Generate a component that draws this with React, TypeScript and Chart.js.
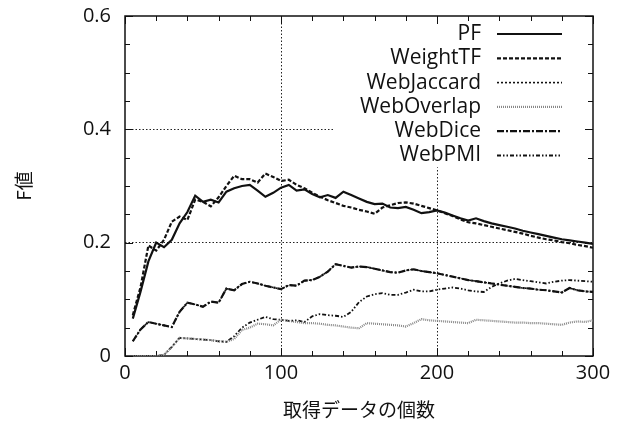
import React, { useEffect, useRef } from "react";
import { Chart, registerables } from "chart.js";

Chart.register(...registerables);

const xValues = [5, 10, 15, 20, 25, 30, 35, 40, 45, 50, 55, 60, 65, 70, 75, 80, 85, 90, 95, 100,
  105, 110, 115, 120, 125, 130, 135, 140, 145, 150, 155, 160, 165, 170, 175, 180, 185, 190, 195, 200,
  205, 210, 215, 220, 225, 230, 235, 240, 245, 250, 255, 260, 265, 270, 275, 280, 285, 290, 295, 300];

const pf = [0.066, 0.114, 0.167, 0.200, 0.192, 0.205, 0.234, 0.254, 0.283, 0.272, 0.276, 0.271, 0.290, 0.296, 0.300, 0.302, 0.292, 0.281, 0.288, 0.297,
  0.302, 0.292, 0.294, 0.286, 0.280, 0.284, 0.279, 0.290, 0.284, 0.278, 0.272, 0.268, 0.269, 0.262, 0.261, 0.263, 0.258, 0.252, 0.254, 0.257,
  0.253, 0.248, 0.243, 0.239, 0.243, 0.238, 0.234, 0.231, 0.228, 0.225, 0.221, 0.218, 0.215, 0.212, 0.209, 0.206, 0.204, 0.202, 0.200, 0.198];

const weightTF = [0.072, 0.122, 0.195, 0.186, 0.205, 0.237, 0.246, 0.240, 0.276, 0.272, 0.264, 0.280, 0.300, 0.318, 0.312, 0.312, 0.306, 0.322, 0.316, 0.309,
  0.311, 0.302, 0.296, 0.288, 0.281, 0.275, 0.270, 0.265, 0.262, 0.258, 0.255, 0.251, 0.262, 0.266, 0.270, 0.271, 0.269, 0.265, 0.261, 0.257,
  0.252, 0.247, 0.241, 0.236, 0.234, 0.231, 0.228, 0.225, 0.222, 0.219, 0.216, 0.212, 0.209, 0.206, 0.204, 0.201, 0.199, 0.196, 0.194, 0.191];

const webJaccard = [0.026, 0.047, 0.060, 0.057, 0.054, 0.051, 0.078, 0.094, 0.091, 0.087, 0.096, 0.094, 0.119, 0.116, 0.127, 0.131, 0.128, 0.124, 0.121, 0.118,
  0.125, 0.124, 0.133, 0.134, 0.140, 0.149, 0.162, 0.159, 0.156, 0.158, 0.157, 0.154, 0.151, 0.148, 0.147, 0.151, 0.153, 0.150, 0.148, 0.146,
  0.143, 0.140, 0.137, 0.134, 0.132, 0.130, 0.128, 0.126, 0.124, 0.122, 0.120, 0.119, 0.117, 0.116, 0.114, 0.112, 0.120, 0.116, 0.114, 0.113];

const webOverlap = [0, 0, 0, 0, 0.002, 0.016, 0.032, 0.031, 0.030, 0.029, 0.028, 0.026, 0.025, 0.030, 0.046, 0.050, 0.057, 0.056, 0.054, 0.064,
  0.062, 0.060, 0.058, 0.058, 0.057, 0.055, 0.054, 0.052, 0.050, 0.049, 0.058, 0.057, 0.056, 0.055, 0.054, 0.052, 0.058, 0.065, 0.063, 0.062,
  0.061, 0.060, 0.059, 0.058, 0.064, 0.063, 0.062, 0.061, 0.060, 0.059, 0.059, 0.058, 0.058, 0.057, 0.056, 0.055, 0.059, 0.061, 0.060, 0.063];

const webDice = [0.026, 0.047, 0.060, 0.057, 0.054, 0.051, 0.078, 0.094, 0.091, 0.087, 0.096, 0.094, 0.119, 0.116, 0.127, 0.131, 0.128, 0.124, 0.121, 0.118,
  0.125, 0.124, 0.133, 0.134, 0.140, 0.149, 0.162, 0.159, 0.156, 0.158, 0.157, 0.154, 0.151, 0.148, 0.147, 0.151, 0.153, 0.150, 0.148, 0.146,
  0.143, 0.140, 0.137, 0.134, 0.132, 0.130, 0.128, 0.126, 0.124, 0.122, 0.120, 0.119, 0.117, 0.116, 0.114, 0.112, 0.120, 0.116, 0.114, 0.113];

const webPMI = [0, 0, 0, 0, 0.002, 0.016, 0.032, 0.031, 0.030, 0.029, 0.028, 0.026, 0.025, 0.035, 0.050, 0.059, 0.064, 0.069, 0.065, 0.064,
  0.062, 0.063, 0.060, 0.070, 0.074, 0.072, 0.071, 0.069, 0.078, 0.095, 0.105, 0.109, 0.111, 0.108, 0.108, 0.112, 0.117, 0.114, 0.114, 0.117,
  0.119, 0.121, 0.119, 0.116, 0.114, 0.113, 0.122, 0.128, 0.133, 0.136, 0.134, 0.132, 0.130, 0.128, 0.131, 0.133, 0.134, 0.133, 0.132, 0.131];

const seriesNames = ["PF", "WeightTF", "WebJaccard", "WebOverlap", "WebDice", "WebPMI"];
const xTickLabels = [0, 100, 200, 300];
const yTickLabels = [0, 0.2, 0.4, 0.6];
const xTitle = "取得データの個数";
const yTitle = "F値";

const FONT = "'Open Sans', 'Noto Sans', sans-serif";

const styles = [
  { color: "#111", width: 2.2, dash: [] as number[] },
  { color: "#111", width: 2.2, dash: [4, 2] },
  { color: "#111", width: 1.6, dash: [2, 2] },
  { color: "#888", width: 2.2, dash: [1, 1] },
  { color: "#111", width: 2.2, dash: [7, 2, 2, 2] },
  { color: "#111", width: 1.8, dash: [4, 2, 1.5, 2, 1.5, 2] },
];

const near = (v: number, arr: number[]) => arr.some((a) => Math.abs(a - v) < 1e-6);

export default function App() {
  const ref = useRef<HTMLCanvasElement | null>(null);
  useEffect(() => {
    if (!ref.current) return;
    const allSeries = [pf, weightTF, webJaccard, webOverlap, webDice, webPMI];
    const datasets = allSeries.map((s, i) => ({
      label: seriesNames[i],
      data: s.map((v, k) => ({ x: xValues[k], y: v })),
      borderColor: styles[i].color,
      borderWidth: styles[i].width,
      borderDash: styles[i].dash,
      pointRadius: 0,
      tension: 0,
      fill: false,
    }));

    const framePlugin = {
      id: "frame",
      beforeDatasetsDraw(chart: any) {
        const { ctx, chartArea: a, scales } = chart;
        const xs = scales.x;
        const ys = scales.y;
        ctx.save();
        // legend white box
        const boxLeft = xs.getPixelForValue(134);
        const boxBottom = ys.getPixelForValue(0.333);
        ctx.fillStyle = "#fff";
        ctx.fillRect(boxLeft, a.top, a.right - boxLeft, boxBottom - a.top);
        // legend entries
        ctx.font = "21px " + FONT;
        ctx.textAlign = "right";
        ctx.textBaseline = "middle";
        const rowY0 = a.top + 18;
        const rowH = 24.3;
        seriesNames.forEach((n, i) => {
          const y = rowY0 + i * rowH;
          ctx.fillStyle = "#111";
          ctx.fillText(n, 481, y);
          ctx.beginPath();
          ctx.strokeStyle = styles[i].color;
          ctx.lineWidth = styles[i].width;
          ctx.setLineDash(styles[i].dash);
          ctx.moveTo(497, y);
          ctx.lineTo(562, y);
          ctx.stroke();
        });
        ctx.setLineDash([]);
        // inward ticks
        ctx.strokeStyle = "#111";
        ctx.lineWidth = 1;
        ctx.beginPath();
        xs.ticks.forEach((t: any) => {
          const px = Math.round(xs.getPixelForValue(t.value)) + 0.5;
          const len = near(t.value, xTickLabels) ? 8 : 5;
          ctx.moveTo(px, a.bottom);
          ctx.lineTo(px, a.bottom - len);
          ctx.moveTo(px, a.top);
          ctx.lineTo(px, a.top + len);
        });
        ys.ticks.forEach((t: any) => {
          const py = Math.round(ys.getPixelForValue(t.value)) + 0.5;
          const len = near(t.value, yTickLabels) ? 8 : 5;
          ctx.moveTo(a.left, py);
          ctx.lineTo(a.left + len, py);
          ctx.moveTo(a.right, py);
          ctx.lineTo(a.right - len, py);
        });
        ctx.stroke();
        // frame
        ctx.lineWidth = 1.5;
        ctx.strokeRect(a.left, a.top, a.right - a.left, a.bottom - a.top);
        ctx.restore();
      },
    };

    const chart = new Chart(ref.current, {
      type: "line",
      data: { datasets },
      plugins: [framePlugin],
      options: {
        animation: false,
        responsive: false,
        layout: { padding: { left: 0, top: 16, right: 32, bottom: 0 } },
        plugins: { legend: { display: false }, tooltip: { enabled: false } },
        scales: {
          x: {
            type: "linear",
            min: 0,
            max: 300,
            afterFit: (s: any) => { s.height = 67; s.paddingLeft = 0; s.paddingRight = 0; },
            border: { display: false, dash: [1.5, 2] },
            grid: {
              drawTicks: false,
              lineWidth: 1,
              color: (c: any) => (c.tick && (near(c.tick.value, [100, 200])) ? "#222" : "rgba(0,0,0,0)"),
            },
            ticks: {
              stepSize: 20,
              padding: 5,
              autoSkip: false,
              maxRotation: 0,
              color: "#111",
              font: { family: FONT, size: 20 },
              callback: (v: any) => (near(Number(v), xTickLabels) ? String(Math.round(Number(v))) : ""),
            },
            title: {
              display: true,
              text: xTitle,
              color: "#111",
              font: { family: "'Noto Sans CJK JP', sans-serif", size: 19 },
              padding: { top: 0, bottom: 2 },
            },
          },
          y: {
            type: "linear",
            min: 0,
            max: 0.6,
            afterFit: (s: any) => { s.width = 125; s.paddingTop = 0; s.paddingBottom = 0; },
            border: { display: false, dash: [1.5, 2] },
            grid: {
              drawTicks: false,
              lineWidth: 1,
              color: (c: any) => (c.tick && near(c.tick.value, [0.2, 0.4]) ? "#222" : "rgba(0,0,0,0)"),
            },
            ticks: {
              stepSize: 0.05,
              padding: 14,
              autoSkip: false,
              color: "#111",
              font: { family: FONT, size: 20 },
              callback: (v: any) => {
                const n = Number(v);
                if (!near(n, yTickLabels)) return "";
                return Math.abs(n) < 1e-9 ? "0" : n.toFixed(1);
              },
            },
            title: {
              display: true,
              text: yTitle,
              color: "#111",
              font: { family: "'Noto Sans CJK JP', sans-serif", size: 19 },
              padding: { top: 12, bottom: 0 },
            },
          },
        },
      } as any,
    });
    return () => chart.destroy();
  }, []);

  return (
    <div style={{ position: "fixed", left: 0, top: 0, width: 625, height: 423, background: "#fff" }}>
      <canvas ref={ref} width={625} height={423} style={{ display: "block" }} />
    </div>
  );
}
